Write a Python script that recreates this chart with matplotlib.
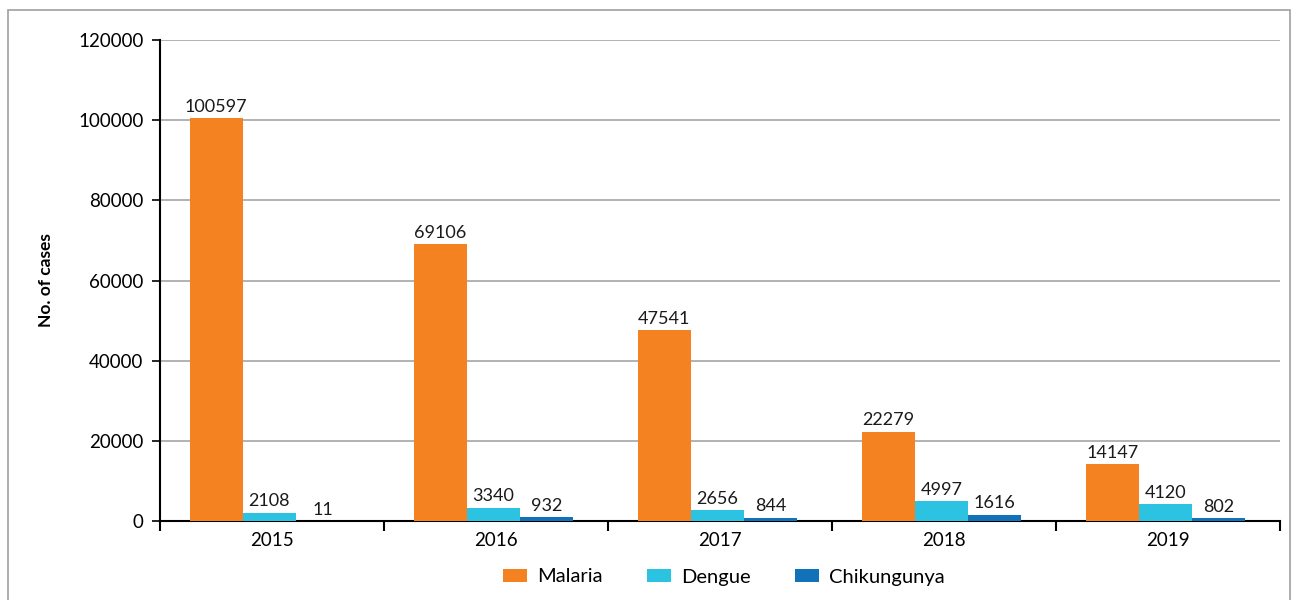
import numpy as np
import matplotlib.pyplot as plt
from matplotlib.patches import Rectangle

plt.rcParams['font.family'] = ['Lato', 'DejaVu Sans']

# data
years = ['2015', '2016', '2017', '2018', '2019']
malaria = [100597, 69106, 47541, 22279, 14147]
dengue = [2108, 3340, 2656, 4997, 4120]
chikungunya = [11, 932, 844, 1616, 802]

series = [('Malaria', malaria, '#F58220'),
          ('Dengue', dengue, '#2BC3E1'),
          ('Chikungunya', chikungunya, '#1172BA')]

fig = plt.figure(figsize=(12.96, 6), dpi=100)
ax = fig.add_axes([160/1296, 1 - 521/600, 1120/1296, 481/600])

# grey frame around the figure
fig.patches.append(Rectangle((8/1296, -0.01), 1282/1296, 1 - 10/600 + 0.01,
                             transform=fig.transFigure, fill=False,
                             edgecolor='#A0A0A0', linewidth=1.2))

x = np.arange(len(years))
w = 0.237
for i, (name, vals, col) in enumerate(series):
    pos = x + (i - 1) * w - 0.012
    bars = ax.bar(pos, vals, width=w, color=col, label=name, zorder=3)
    for b, v in zip(bars, vals):
        ax.text(b.get_x() + b.get_width() / 2, v + 800, str(v),
                ha='center', va='bottom', fontsize=13, color='#1a1a1a')

ax.set_xlim(-0.5, len(years) - 0.5)
ax.set_ylim(0, 120000)
ax.set_yticks(np.arange(0, 120001, 20000))
ax.tick_params(axis='y', labelsize=13.5, length=6, width=1.2, direction='out', pad=6)
ax.set_xticks(x)
ax.set_xticklabels(years, fontsize=13.5)
ax.set_xticks(np.arange(-0.5, len(years)), minor=True)
ax.tick_params(axis='x', which='major', length=0, pad=8)
ax.tick_params(axis='x', which='minor', length=7, width=1.5, direction='out')

ax.yaxis.grid(True, color='#A6A6A6', linewidth=1.2, zorder=0)
ax.set_axisbelow(True)
for s in ['top', 'right']:
    ax.spines[s].set_visible(False)
ax.spines['left'].set_linewidth(1.5)
ax.spines['bottom'].set_linewidth(1.5)

ax.set_ylabel('No. of cases', fontsize=12.5, fontweight='bold')
ax.yaxis.set_label_coords(-0.095, 0.5)

fig.legend(loc='center', bbox_to_anchor=(724/1296, 1 - 577/600), ncol=3,
           frameon=False, fontsize=14.5, handlelength=1.2, handleheight=0.6,
           columnspacing=2.2, handletextpad=0.5)

fig.savefig('out.png', dpi=100)
